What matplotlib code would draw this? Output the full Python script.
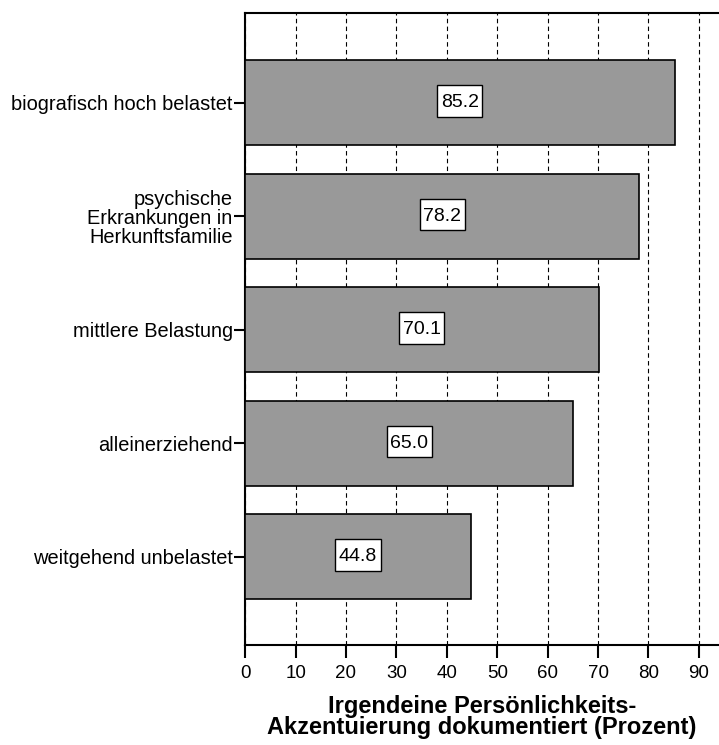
import matplotlib.pyplot as plt
from matplotlib.path import Path

plt.rcParams['font.family'] = ['Liberation Sans', 'DejaVu Sans']

categories = ['biografisch hoch belastet',
              'psychische\nErkrankungen in\nHerkunftsfamilie',
              'mittlere Belastung',
              'alleinerziehend',
              'weitgehend unbelastet']
values = [85.2, 78.2, 70.1, 65.0, 44.8]
xticks = [0, 10, 20, 30, 40, 50, 60, 70, 80, 90]


def tallbox(x0, y0, width, height, mutation_size):
    # square box, more padding above/below than left/right
    px = 0.18 * mutation_size
    x0, x1 = x0 - px, x0 + width + px
    y0, y1 = y0 - 0.30 * mutation_size, y0 + height + 0.45 * mutation_size
    return Path([(x0, y0), (x1, y0), (x1, y1), (x0, y1), (x0, y0)], closed=True)


def main():
    fig = plt.figure(figsize=(7.19, 7.45), dpi=100)
    ax = fig.add_axes([0.341, 0.134, 0.659, 0.8486])

    pos = list(range(len(values)))
    ax.barh(pos, values, height=0.75, color='#999999',
            edgecolor='black', linewidth=1.2, zorder=3)

    for p, v in zip(pos, values):
        ax.text(v / 2, p, '{:.1f}'.format(v), ha='center', va='center',
                fontsize=14, zorder=4,
                bbox=dict(boxstyle=tallbox, fc='white', ec='black', lw=1))

    ax.set_xlim(0, 94)
    ax.set_ylim(4.78, -0.79)
    ax.set_xticks(xticks)
    ax.set_yticks(pos)
    ax.set_yticklabels(categories, fontsize=14.4, linespacing=1.0)
    ax.tick_params(axis='x', labelsize=13.5, length=9.5, width=1.5, pad=5)
    ax.tick_params(axis='y', length=8, width=1.5, pad=1)

    ax.grid(axis='x', linestyle=(0, (4, 3)), color='black', lw=0.8, zorder=0)
    for s in ['top', 'left', 'bottom']:
        ax.spines[s].set_linewidth(1.5)
    ax.spines['right'].set_visible(False)

    ax.set_xlabel('Irgendeine Persönlichkeits-\nAkzentuierung dokumentiert (Prozent)',
                  fontsize=17, fontweight='bold', labelpad=9, linespacing=0.92)

    fig.savefig('out.png', dpi=100)


if __name__ == '__main__':
    main()
